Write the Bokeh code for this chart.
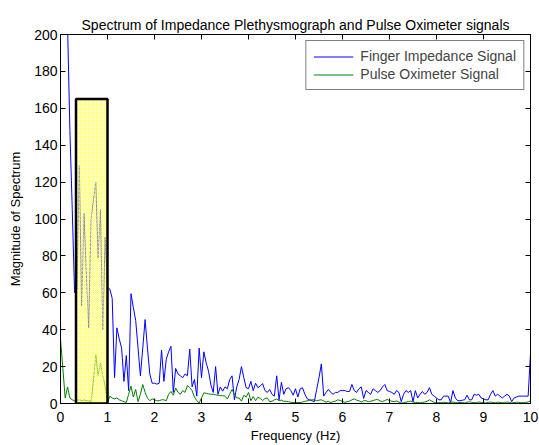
from bokeh.plotting import figure
from bokeh.models import LinearAxis, FixedTicker, Legend, LegendItem, Range1d, ColumnDataSource
from bokeh.embed import file_html
from bokeh.resources import INLINE
import numpy as np

title_text = "Spectrum of Impedance Plethysmograph and Pulse Oximeter signals"
x_label = "Frequency (Hz)"
y_label = "Magnitude of Spectrum"
series_names = ["Finger Impedance Signal", "Pulse Oximeter Signal"]
x_ticks = [0, 1, 2, 3, 4, 5, 6, 7, 8, 9, 10]
y_ticks = [0, 20, 40, 60, 80, 100, 120, 140, 160, 180, 200]

freq = np.linspace(0, 10, 201)

impedance = [300, 250, 215, 205, 148, 105, 60, 62, 129, 53,
             103, 70, 41, 100, 110, 120, 79, 105, 40, 90,
             63, 62, 57, 14, 41, 35, 30, 12, 26, 7,
             59.5, 52, 45, 30, 15, 30, 45.5, 30, 16, 11,
             11, 10.5, 11, 29, 12, 24, 28, 31, 6, 19,
             16, 15, 14, 16, 15, 29.5, 9, 13, 4, 30,
             14, 28, 22, 17.5, 10, 6, 20, 5, 9, 6.7,
             9, 8, 13, 15, 2, 9, 13, 20, 14, 8.6,
             8, 12, 7, 11, 8.6, 9.5, 10.8, 7, 6, 7.6,
             5, 4, 15, 2, 11.5, 5, 8, 8.6, 7, 4.5,
             8, 3.5, 8, 8.5, 5, 2.5, 2, 1.5, 1, 7.6,
             14, 21.5, 4, 6, 7.6, 6, 5, 6, 6, 7,
             7, 7, 6.5, 6.5, 10.3, 7, 6, 8, 9, 2.7,
             7, 6, 5, 8, 7, 6, 7, 9, 10.3, 7,
             6.5, 6, 5, 7, 6, 1, 5, 7, 6, 7,
             1, 7, 3, 5, 6.5, 5, 6, 8.6, 5, 4,
             3, 2, 2, 4, 4, 4, 0.5, 7, 3, 1.5,
             1.5, 1.8, 2, 4.5, 2, 2, 5, 4.5, 5, 3,
             2.5, 2, 2, 5, 7, 4, 5, 4, 3, 4,
             5, 4, 1, 3, 3.5, 4, 4, 4, 4, 4,
             27]

oximeter = [35, 19, 3, 9, 3, 2, 1.5, 2, 2, 1.5,
            2, 1.5, 1.5, 1, 12, 26.5, 15, 22, 15, 9.4,
            0.5, 4, 3, 2.5, 3, 2, 1.5, 1, 0.5, 5,
            9.4, 3.5, 7.6, 1, 5, 10.3, 6, 3, 1.5, 2.5,
            2, 1.5, 1.5, 2, 2, 1.5, 5, 6.5, 4.5, 8.4,
            6, 5, 7, 6, 9.7, 8.6, 7, 3.5, 1.5, 0.3,
            3, 5.8, 5.5, 5.2, 5, 5, 4.7, 4.5, 4.3, 4.2,
            4, 2.5, 5, 7.6, 5, 3, 3, 1.3, 4.5, 3.5,
            6, 1.5, 3.8, 1.5, 3.4, 2.8, 1.6, 2.7, 3, 1,
            1.2, 2, 2.4, 1.6, 1.8, 1.2, 1.2, 1, 0.6, 0.5,
            0.5, 0.6, 0.5, 0.8, 1.2, 1.4, 1.8, 2, 2, 1.6,
            1.8, 2, 1.4, 0.7, 1.2, 0.5, 1, 1.3, 2, 1.6,
            1.2, 0.6, 1, 1.3, 2, 2.5, 1.8, 1.5, 0.8, 1.5,
            1.5, 1, 1.2, 1.6, 2, 2.2, 1.4, 1, 1.6, 2.2,
            1.6, 1.2, 1, 1.4, 0.8, 0.2, 0.5, 0.7, 1, 1.3,
            0.8, 0.5, 0.6, 0.3, 0.6, 0.8, 1.2, 2, 1.3, 0.5,
            0.3, 0.5, 0.4, 0.7, 0.5, 0.3, 0.6, 0.8, 0.5, 0.4,
            0.6, 0.5, 0.3, 0.7, 0.9, 0.6, 0.4, 0.5, 0.8, 0.6,
            0.4, 0.3, 0.6, 0.8, 0.5, 0.4, 0.7, 0.6, 0.4, 0.5,
            0.8, 0.6, 0.3, 0.5, 0.7, 0.6, 0.4, 0.5, 0.6, 0.8,
            1.5]

# highlighted band (Hz) and its height
band_left = [0.33]
band_right = [1.0]
band_bottom = [0]
band_top = [165]

FONT = "Liberation Sans"

src = ColumnDataSource(dict(f=freq, imp=impedance, oxi=oximeter))

p = figure(width=539, height=445, x_range=Range1d(0, 10), y_range=Range1d(0, 200),
           output_backend="svg", toolbar_location=None,
           min_border_left=60, min_border_right=9, min_border_top=34, min_border_bottom=41,
           background_fill_color="white", border_fill_color="white")

p.title.text = title_text
p.title.align = "center"
p.title.text_font = FONT
p.title.text_font_size = "14px"
p.title.text_font_style = "normal"
p.title.text_color = "black"
p.title.offset = 0
p.title.standoff = 4

p.xgrid.visible = False
p.ygrid.visible = False
p.outline_line_color = "black"
p.outline_line_width = 1

r1 = p.line("f", "imp", source=src, line_color="#0000ff", line_width=1)
r2 = p.line("f", "oxi", source=src, line_color="#008000", line_width=1)

p.quad(left=band_left, right=band_right, bottom=band_bottom, top=band_top,
       fill_color="#ffff00", fill_alpha=0.5,
       hatch_pattern="criss_cross", hatch_color="white", hatch_alpha=0.35,
       hatch_scale=4, hatch_weight=1,
       line_color="black", line_width=2.5)

def style_axis(ax, labels=True):
    ax.major_tick_in = 5
    ax.major_tick_out = 0
    ax.minor_tick_line_color = None
    ax.axis_line_color = "black"
    ax.major_tick_line_color = "black"
    ax.major_label_text_font = FONT
    ax.major_label_text_font_size = "14px" if labels else "1px"
    ax.major_label_text_color = "black" if labels else None
    ax.axis_label_text_font = FONT
    ax.axis_label_text_font_size = "13px"
    ax.axis_label_text_font_style = "normal"
    ax.axis_label_text_color = "black"

p.xaxis.ticker = FixedTicker(ticks=x_ticks)
p.yaxis.ticker = FixedTicker(ticks=y_ticks)
p.xaxis.axis_label = x_label
p.yaxis.axis_label = y_label
style_axis(p.xaxis[0])
style_axis(p.yaxis[0])
p.xaxis.major_label_standoff = 8
p.yaxis.major_label_standoff = 3
p.xaxis.axis_label_standoff = 3
p.yaxis.axis_label_standoff = 8

top_ax = LinearAxis(ticker=FixedTicker(ticks=x_ticks))
style_axis(top_ax, labels=False)
top_ax.major_label_standoff = 0
p.add_layout(top_ax, "above")

right_ax = LinearAxis(ticker=FixedTicker(ticks=y_ticks))
style_axis(right_ax, labels=False)
right_ax.major_label_standoff = 0
p.add_layout(right_ax, "right")

legend = Legend(items=[LegendItem(label=series_names[0], renderers=[r1]),
                       LegendItem(label=series_names[1], renderers=[r2])],
                location="top_right")
legend.border_line_color = "black"
legend.border_line_width = 1
legend.background_fill_color = "white"
legend.background_fill_alpha = 1
legend.label_text_font = FONT
legend.label_text_font_size = "14px"
legend.glyph_width = 40
legend.glyph_height = 15
legend.label_height = 15
legend.label_standoff = 7
legend.padding = 7
legend.spacing = 2
legend.margin = 6
p.add_layout(legend)

open("out.html", "w").write(file_html(p, INLINE))
